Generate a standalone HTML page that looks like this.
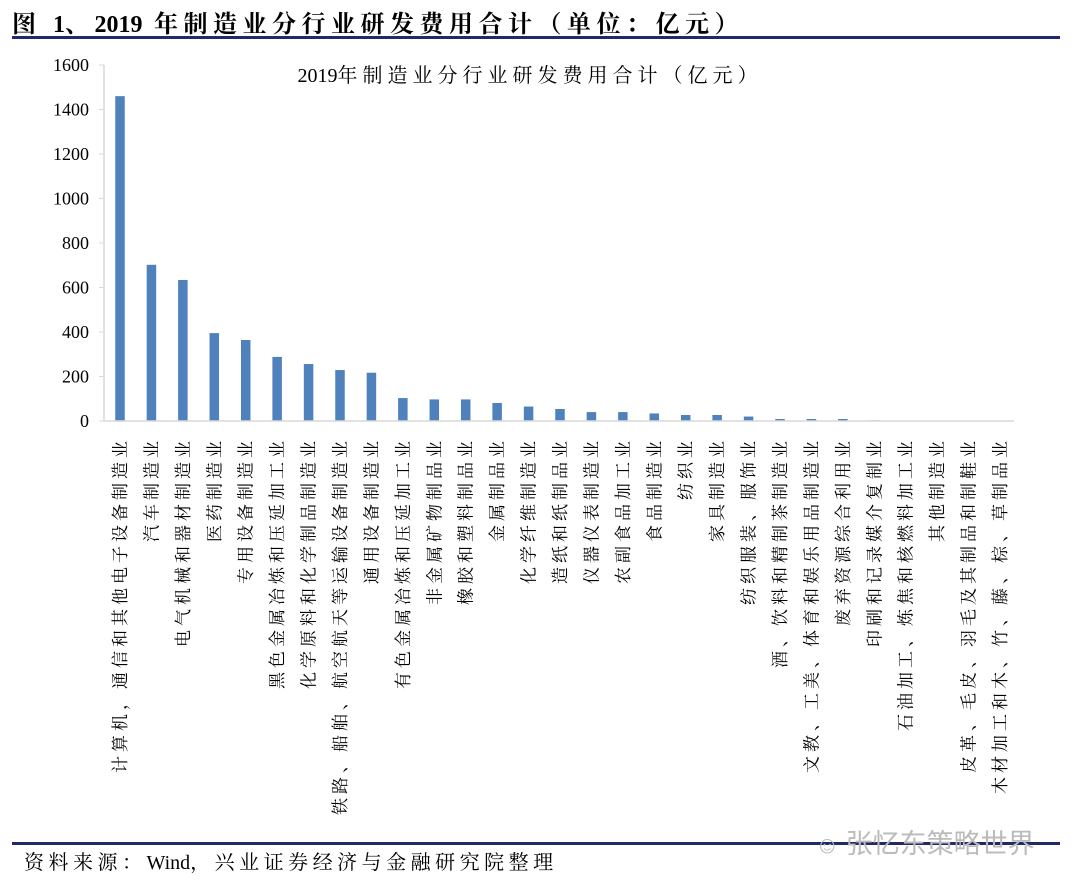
<!DOCTYPE html>
<html><head><meta charset="utf-8"><style>
body{margin:0;background:#fff;width:1080px;height:887px;overflow:hidden;position:relative;font-family:"Liberation Serif","Noto Serif CJK SC",serif;}
.hdr{position:absolute;left:12px;top:4px;font-size:24px;font-weight:bold;color:#000;letter-spacing:5.5px;}
.hdr b,.src b{letter-spacing:0;font-weight:inherit;}
.line{position:absolute;left:12px;width:1048px;height:3px;background:#1f2a66;}
.src{position:absolute;left:24px;top:846px;font-size:20px;color:#000;letter-spacing:4.5px;}
.wm{position:absolute;left:815px;top:822px;font-size:27px;color:#bbb;font-family:"Noto Sans CJK SC",sans-serif;}
</style></head><body>
<div class="hdr">图 <b>1</b>、<b>2019</b> 年制造业分行业研发费用合计（单位：亿元）</div>
<div class="line" style="top:36px"></div>
<svg id="chart" width="1080" height="840" style="position:absolute;left:0;top:0"></svg>
<div class="line" style="top:842px"></div>
<div class="src">资料来源：<b>Wind</b>，兴业证券经济与金融研究院整理</div>
<div class="wm"><span style="font-size:24px">☺</span> 张忆东策略世界</div>
<script>
const categories=["计算机，通信和其他电子设备制造业","汽车制造业","电气机械和器材制造业","医药制造业","专用设备制造业","黑色金属冶炼和压延加工业","化学原料和化学制品制造业","铁路、船舶、航空航天等运输设备制造业","通用设备制造业","有色金属冶炼和压延加工业","非金属矿物制品业","橡胶和塑料制品业","金属制品业","化学纤维制造业","造纸和纸制品业","仪器仪表制造业","农副食品加工业","食品制造业","纺织业","家具制造业","纺织服装、服饰业","酒、饮料和精制茶制造业","文教、工美、体育和娱乐用品制造业","废弃资源综合利用业","印刷和记录媒介复制业","石油加工、炼焦和核燃料加工业","其他制造业","皮革、毛皮、羽毛及其制品和制鞋业","木材加工和木、竹、藤、棕、草制品业"];
const values=[1460,702,634,395,364,288,256,229,217,103,97,97,81,65,54,40,40,34,27,27,20,9,9,9,3,2,2,2,2];
const yTicks=[0,200,400,600,800,1000,1200,1400,1600];
const NS="http://www.w3.org/2000/svg";
const svg=document.getElementById('chart');
const x0=104,x1=1014,yB=421,yT=65,yMax=1600;
const y=v=>yB-(v/yMax)*(yB-yT);
const step=(1000-120)/28;
const xc=i=>120+i*step;
function mk(t,a){const e=document.createElementNS(NS,t);for(const k in a)e.setAttribute(k,a[k]);svg.appendChild(e);return e;}
let t=mk('text',{x:530,y:82,'text-anchor':'middle','font-size':20,fill:'#000'});
t.innerHTML='2019<tspan letter-spacing="5">年制造业分行业研发费用合计（亿元）</tspan>';


let ax=mk('line',{x1:x0,y1:yT,x2:x0,y2:yB,stroke:'#d9d9d9','stroke-width':1.5});


yTicks.forEach(v=>{
  const tk=mk('line',{x1:x0-5,y1:y(v),x2:x0,y2:y(v),stroke:'#d9d9d9'});
  
  
  const l=mk('text',{x:89,y:y(v)+6,'text-anchor':'end','font-size':18,fill:'#000'});l.textContent=v;
  
  
});
values.forEach((v,i)=>{
  const r=mk('rect',{x:xc(i)-4.75,y:y(v),width:9.5,height:yB-y(v),fill:'#4f81bd'});
  
  
});
let xa=mk('line',{x1:x0,y1:yB,x2:x1,y2:yB,stroke:'#d9d9d9','stroke-width':1.5});


categories.forEach((c,i)=>{
  const X=xc(i)+6,Y=437;
  const l=mk('text',{x:X,y:Y,'font-size':17,fill:'#000','text-anchor':'end','letter-spacing':4,transform:'rotate(-90 '+X+' '+Y+')'});
  l.textContent=c;
  
  
});
</script>
</body></html>
